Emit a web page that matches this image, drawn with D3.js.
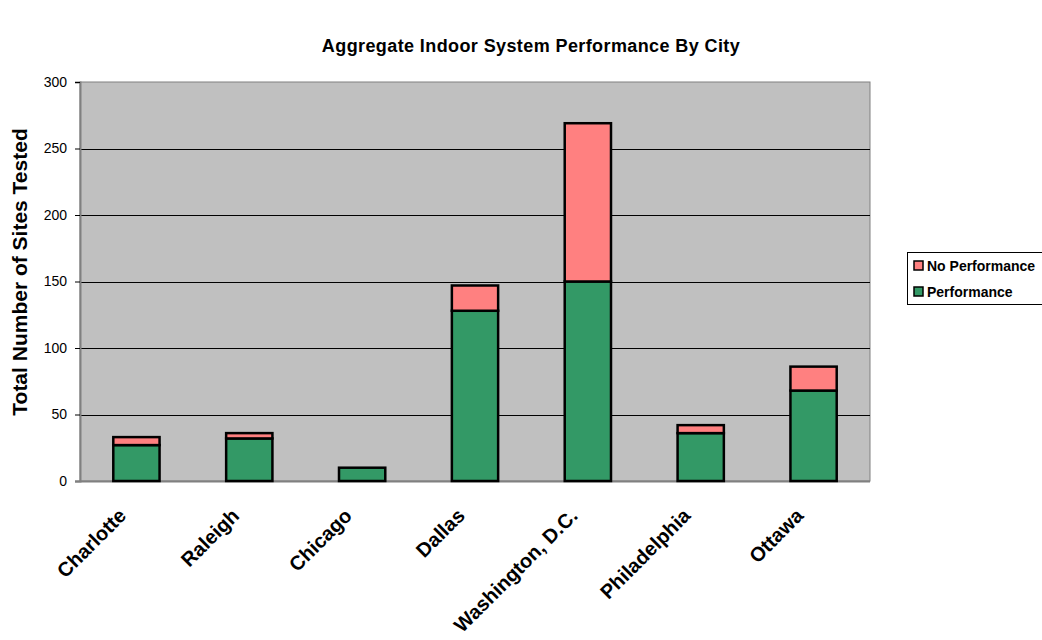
<!DOCTYPE html>
<html>
<head>
<meta charset="utf-8">
<script src="https://cdn.jsdelivr.net/npm/d3@7"></script>
<style>
  body { margin: 0; background: #fff; }
</style>
</head>
<body>
<div id="graph-container"></div>
<script>
// Chart data
const cities = ["Charlotte", "Raleigh", "Chicago", "Dallas", "Washington, D.C.", "Philadelphia", "Ottawa"];
const performance = [27, 32, 10, 128, 150, 36, 68];
const noPerformance = [6, 4, 0, 19, 119, 6, 18];
const seriesNames = ["Performance", "No Performance"];
const seriesColors = ["#339966", "#FF8080"];
const yTicks = [0, 50, 100, 150, 200, 250, 300];

const width = 1042;
const height = 640;
const marginTop = 82;
const marginRight = 172;
const marginBottom = 159;
const marginLeft = 80;

const svg = d3.select("#graph-container").append("svg")
    .attr("width", width)
    .attr("height", height)
    .attr("viewBox", [0, 0, width, height])
    .style("font-family", "Arial, 'Liberation Sans', sans-serif");

const rows = cities.map((c, i) => ({city: c, "Performance": performance[i], "No Performance": noPerformance[i]}));
const stacked = d3.stack().keys(seriesNames)(rows);

const x = d3.scaleBand()
    .domain(cities)
    .range([marginLeft, width - marginRight])
    .paddingInner(0.59)
    .paddingOuter(0.295);

const y = d3.scaleLinear()
    .domain([0, 300])
    .range([height - marginBottom, marginTop]);

// Plot area background
svg.append("rect")
    .attr("x", marginLeft)
    .attr("y", marginTop)
    .attr("width", width - marginRight - marginLeft)
    .attr("height", height - marginBottom - marginTop)
    .attr("fill", "#C0C0C0")
    .attr("stroke", "#808080")
    .attr("stroke-width", 1);

// Grid lines
svg.append("g")
    .attr("stroke", "#000")
    .attr("stroke-width", 1)
    .selectAll("line")
    .data(yTicks.slice(1, -1))
    .join("line")
    .attr("x1", marginLeft)
    .attr("x2", width - marginRight)
    .attr("y1", d => Math.round(y(d)) + 0.5)
    .attr("y2", d => Math.round(y(d)) + 0.5);

// Y axis
svg.append("g")
    .attr("transform", `translate(${marginLeft},0)`)
    .call(d3.axisLeft(y).tickValues(yTicks).tickSize(5).tickPadding(8))
    .call(g => g.select(".domain").attr("stroke", "#808080").attr("stroke-width", 2))
    .call(g => g.selectAll(".tick line").attr("stroke", "#000"))
    .call(g => g.selectAll(".tick text").attr("font-size", 14).attr("fill", "#000"));

// Bottom axis line
svg.append("line")
    .attr("x1", marginLeft - 5)
    .attr("x2", width - marginRight)
    .attr("y1", y(0) + 0.5)
    .attr("y2", y(0) + 0.5)
    .attr("stroke", "#808080")
    .attr("stroke-width", 2);

// Stacked bars
svg.append("g")
    .selectAll("g")
    .data(stacked)
    .join("g")
    .attr("fill", (d, i) => seriesColors[i])
    .selectAll("rect")
    .data(d => d.filter(p => p[1] - p[0] > 0))
    .join("rect")
    .attr("x", d => x(d.data.city))
    .attr("y", d => y(d[1]))
    .attr("width", x.bandwidth())
    .attr("height", d => y(d[0]) - y(d[1]))
    .attr("stroke", "#000")
    .attr("stroke-width", 2.5);

// City labels
svg.append("g")
    .selectAll("text")
    .data(cities)
    .join("text")
    .attr("transform", d => `translate(${x(d) + x.bandwidth() / 2 - 9},${height - marginBottom + 36}) rotate(-45)`)
    .attr("text-anchor", "end")
    .attr("font-size", 20)
    .attr("font-weight", "bold")
    .text(d => d);

// Title
svg.append("text")
    .attr("x", 531)
    .attr("y", 52)
    .attr("text-anchor", "middle")
    .attr("font-size", 18)
    .attr("font-weight", "bold")
    .attr("letter-spacing", 0.4)
    .text("Aggregate Indoor System Performance By City");

// Y axis title
svg.append("text")
    .attr("transform", "translate(27,272) rotate(-90)")
    .attr("text-anchor", "middle")
    .attr("font-size", 21)
    .attr("font-weight", "bold")
    .text("Total Number of Sites Tested");

// Legend
const legend = svg.append("g")
    .attr("transform", "translate(907,252)");

legend.append("rect")
    .attr("x", 0.5)
    .attr("y", 0.5)
    .attr("width", 140)
    .attr("height", 52)
    .attr("fill", "#fff")
    .attr("stroke", "#000");

const legendItems = legend.selectAll("g.item")
    .data(["No Performance", "Performance"])
    .join("g")
    .attr("class", "item")
    .attr("transform", (d, i) => `translate(7,${9 + i * 26})`);

legendItems.append("rect")
    .attr("width", 9)
    .attr("height", 9)
    .attr("fill", d => seriesColors[seriesNames.indexOf(d)])
    .attr("stroke", "#000")
    .attr("stroke-width", 1.5);

legendItems.append("text")
    .attr("x", 13)
    .attr("y", 10)
    .attr("font-size", 14)
    .attr("font-weight", "bold")
    .text(d => d);
</script>
</body>
</html>
